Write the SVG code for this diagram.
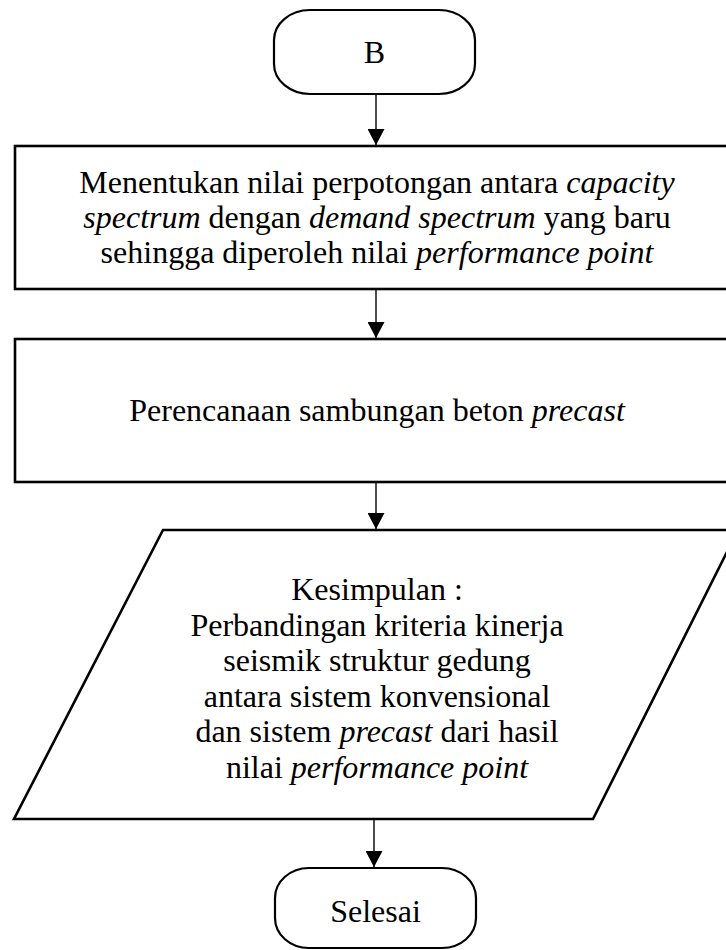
<svg xmlns="http://www.w3.org/2000/svg" width="726" height="950" viewBox="0 0 726 950">
  <defs>
    <marker id="arrow" viewBox="0 0 16 17" refX="16" refY="8.5" markerWidth="16" markerHeight="17" markerUnits="userSpaceOnUse" orient="auto">
      <path d="M0,0 L16,8.5 L0,17 Z" fill="#000"/>
    </marker>
    <style>
      .shape { fill: #fff; stroke: #000; stroke-width: 2.6; }
      .term { fill: #fff; stroke: #000; stroke-width: 2.2; }
      .conn { fill: none; stroke: #000; stroke-width: 1.4; marker-end: url(#arrow); }
      text { font-family: "Liberation Serif", "Times New Roman", serif; font-size: 32px; fill: #000; text-anchor: middle; }
      .it { font-style: italic; }
    </style>
  </defs>
  <rect width="726" height="950" fill="#fff"/>

  <!-- flow connectors -->
  <g id="connectors">
    <line class="conn" x1="376" y1="94" x2="376" y2="145"/>
    <line class="conn" x1="376" y1="289" x2="376" y2="338"/>
    <line class="conn" x1="376" y1="482" x2="376" y2="529"/>
    <line class="conn" x1="374" y1="820" x2="374" y2="867"/>
  </g>

  <!-- start terminal -->
  <g id="start">
    <rect class="term" x="274" y="10" width="201" height="84" rx="36" ry="30"/>
    <text x="374.5" y="63">B</text>
  </g>

  <!-- process: intersection of spectra -->
  <g id="process1">
    <rect class="shape" x="15" y="146" width="722" height="143"/>
    <text x="377" y="193">Menentukan nilai perpotongan antara <tspan class="it">capacity</tspan></text>
    <text x="377" y="228"><tspan class="it">spectrum</tspan> dengan <tspan class="it">demand spectrum</tspan> yang baru</text>
    <text x="377" y="263">sehingga diperoleh nilai <tspan class="it">performance point</tspan></text>
  </g>

  <!-- process: connection design -->
  <g id="process2">
    <rect class="shape" x="15" y="339" width="722" height="143"/>
    <text x="377" y="421">Perencanaan sambungan beton <tspan class="it">precast</tspan></text>
  </g>

  <!-- output: conclusion -->
  <g id="conclusion">
    <polygon class="shape" points="163,530 738,530 593,819 14,819"/>
    <text x="377" y="600">Kesimpulan :</text>
    <text x="377" y="636">Perbandingan kriteria kinerja</text>
    <text x="377" y="671">seismik struktur gedung</text>
    <text x="377" y="707">antara sistem konvensional</text>
    <text x="377" y="742">dan sistem <tspan class="it">precast</tspan> dari hasil</text>
    <text x="377" y="778">nilai <tspan class="it">performance point</tspan></text>
  </g>

  <!-- end terminal -->
  <g id="end">
    <rect class="term" x="275" y="868" width="201" height="80" rx="34" ry="30"/>
    <text x="375.5" y="922">Selesai</text>
  </g>
</svg>
